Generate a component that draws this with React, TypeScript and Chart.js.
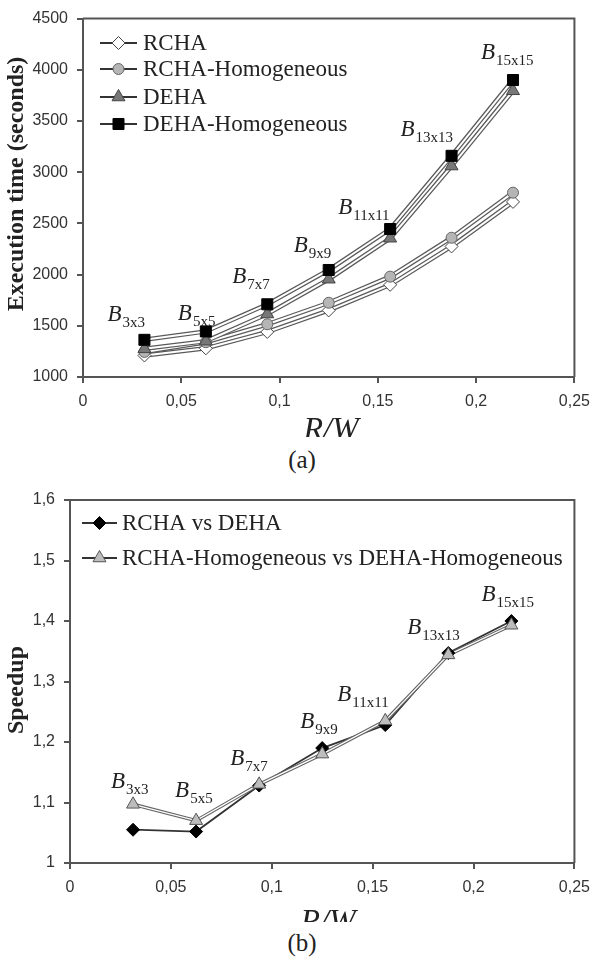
import React, { useEffect, useRef } from 'react';
import { Chart, registerables } from 'chart.js';
import { drawPoint } from 'chart.js/helpers';

Chart.register(...registerables);

// ---------- data ----------
const rwRatios = [0.03125, 0.0625, 0.09375, 0.125, 0.15625, 0.1875, 0.21875];
const blockSizes = ['3x3', '5x5', '7x7', '9x9', '11x11', '13x13', '15x15'];

const rchaTimes = [1210, 1280, 1440, 1650, 1900, 2275, 2710];
const rchaHomogeneousTimes = [1245, 1340, 1515, 1725, 1980, 2360, 2800];
const dehaTimes = [1275, 1350, 1615, 1955, 2355, 3060, 3795];
const dehaHomogeneousTimes = [1363, 1445, 1710, 2045, 2445, 3160, 3900];

const speedupRchaVsDeha = [1.055, 1.052, 1.128, 1.19, 1.228, 1.347, 1.4];
const speedupHomogeneous = [1.097, 1.07, 1.13, 1.18, 1.235, 1.344, 1.393];

const timeLegend = ['RCHA', 'RCHA-Homogeneous', 'DEHA', 'DEHA-Homogeneous'];
const speedupLegend = ['RCHA vs DEHA', 'RCHA-Homogeneous vs DEHA-Homogeneous'];

// ---------- layout / style constants ----------
const SERIF = '"Liberation Serif", "Times New Roman", serif';
const SANS = '"Liberation Sans", Arial, sans-serif';
const AXIS = '#555555';
const TEXT = '#222222';

const topLabelOffsets = [
  [-37, -19], [-28, -11], [-35, -21], [-35, -18], [-52, -15], [-51, -20], [-32, -21],
];
const bottomLabelOffsets = [
  [-22, -16], [-21, -24], [-29, -19], [-22, -20], [-48, -20], [-41, -19], [-30, -20],
];

type MarkStyle = {
  pointStyle: string;
  radius: number;
  fill: string;
  stroke: string;
  lineColor: string;
  lineWidth: number;
  coreWidth: number;
};

const topStyles: MarkStyle[] = [
  { pointStyle: 'rectRot', radius: 6.5, fill: '#ffffff', stroke: '#444', lineColor: '#5a5a5a', lineWidth: 4.5, coreWidth: 2 },
  { pointStyle: 'circle', radius: 5.5, fill: '#b5b5b5', stroke: '#666', lineColor: '#5a5a5a', lineWidth: 4.5, coreWidth: 2 },
  { pointStyle: 'triangle', radius: 7.5, fill: '#777777', stroke: '#444', lineColor: '#5a5a5a', lineWidth: 4.5, coreWidth: 2 },
  { pointStyle: 'rect', radius: 7.8, fill: '#000000', stroke: '#000', lineColor: '#5a5a5a', lineWidth: 4.5, coreWidth: 2 },
];
const bottomStyles: MarkStyle[] = [
  { pointStyle: 'rectRot', radius: 6.5, fill: '#000000', stroke: '#000', lineColor: '#333', lineWidth: 1.8, coreWidth: 0 },
  { pointStyle: 'triangle', radius: 7.5, fill: '#bdbdbd', stroke: '#555', lineColor: '#666', lineWidth: 3.5, coreWidth: 1.3 },
];

const fmtComma = (v: number, digits: number) =>
  String(parseFloat(Number(v).toFixed(digits))).replace('.', ',');

function buildDatasets(seriesValues: number[][], labels: string[], styles: MarkStyle[]) {
  const ds: any[] = [];
  seriesValues.forEach((vals, i) => {
    const data = rwRatios.map((x, k) => ({ x, y: vals[k] }));
    const s = styles[i];
    ds.push({
      label: labels[i],
      data,
      showLine: false,
      pointStyle: s.pointStyle,
      pointRadius: s.radius,
      pointBackgroundColor: s.fill,
      pointBorderColor: s.stroke,
      pointBorderWidth: 1,
      order: 10 - i,
    });
    ds.push({
      label: labels[i] + ' line',
      data,
      borderColor: s.lineColor,
      borderWidth: s.lineWidth,
      pointRadius: 0,
      fill: false,
      tension: 0,
      order: 100 - 2 * i,
    });
    if (s.coreWidth > 0) {
      ds.push({
        label: labels[i] + ' core',
        data,
        borderColor: '#ffffff',
        borderWidth: s.coreWidth,
        pointRadius: 0,
        fill: false,
        tension: 0,
        order: 99 - 2 * i,
      });
    }
  });
  return ds;
}

type Deco = {
  seriesValues: number[][];
  legend: string[];
  styles: MarkStyle[];
  legendLine: [number, number];
  legendText: number;
  legendRows: number[];
  labelOffsets: number[][];
  yTitle: string;
  yTitlePos: [number, number];
  rwPos: [number, number];
};

function decoPlugin(d: Deco) {
  return {
    id: 'deco',
    beforeDatasetsDraw(chart: any) {
      const { ctx, chartArea } = chart;
      ctx.save();
      ctx.strokeStyle = AXIS;
      ctx.lineWidth = 2;
      ctx.beginPath();
      ctx.moveTo(chartArea.left, chartArea.top);
      ctx.lineTo(chartArea.right, chartArea.top);
      ctx.lineTo(chartArea.right, chartArea.bottom);
      ctx.stroke();
      ctx.restore();
    },
    afterDraw(chart: any) {
      const { ctx } = chart;
      const xs = chart.scales.x;
      const ys = chart.scales.y;
      ctx.save();
      // legend
      d.legend.forEach((name, i) => {
        const y = d.legendRows[i];
        const s = d.styles[i];
        ctx.strokeStyle = '#333';
        ctx.lineWidth = 1.8;
        ctx.beginPath();
        ctx.moveTo(d.legendLine[0], y);
        ctx.lineTo(d.legendLine[1], y);
        ctx.stroke();
        ctx.fillStyle = s.fill;
        ctx.strokeStyle = s.stroke;
        ctx.lineWidth = 1;
        drawPoint(ctx, { pointStyle: s.pointStyle as any, radius: s.radius, rotation: 0, borderWidth: 1 }, (d.legendLine[0] + d.legendLine[1]) / 2, y);
        ctx.fillStyle = TEXT;
        ctx.font = `23px ${SERIF}`;
        ctx.textAlign = 'left';
        ctx.textBaseline = 'middle';
        ctx.fillText(name, d.legendText, y + 1);
      });
      // block labels
      ctx.textBaseline = 'alphabetic';
      blockSizes.forEach((b, i) => {
        const anchor = Math.max(...d.seriesValues.map((v) => v[i]));
        const px = xs.getPixelForValue(rwRatios[i]);
        const py = ys.getPixelForValue(anchor);
        const [dx, dy] = d.labelOffsets[i];
        ctx.fillStyle = TEXT;
        ctx.font = `italic 23px ${SERIF}`;
        ctx.fillText('B', px + dx, py + dy);
        const w = ctx.measureText('B').width;
        ctx.font = `15px ${SERIF}`;
        ctx.fillText(b, px + dx + w + 1, py + dy + 6);
      });
      // y title
      ctx.save();
      ctx.translate(d.yTitlePos[0], d.yTitlePos[1]);
      ctx.rotate(-Math.PI / 2);
      ctx.font = `bold 24px ${SERIF}`;
      ctx.fillStyle = TEXT;
      ctx.textAlign = 'center';
      ctx.textBaseline = 'middle';
      ctx.fillText(d.yTitle, 0, 0);
      ctx.restore();
      // x title (clipped by canvas edge like the original)
      ctx.font = `italic 32px ${SERIF}`;
      ctx.fillStyle = TEXT;
      ctx.textAlign = 'center';
      ctx.textBaseline = 'alphabetic';
      ctx.fillText('R/W', d.rwPos[0], d.rwPos[1]);
      ctx.restore();
    },
  };
}

function makeConfig(opts: {
  deco: Deco;
  yMin: number;
  yMax: number;
  yStep: number;
  yFmt: (v: number) => string;
  yWidth: number;
  xHeight: number;
  padTop: number;
}) {
  const { deco } = opts;
  return {
    type: 'line' as const,
    data: { datasets: buildDatasets(deco.seriesValues, deco.legend, deco.styles) },
    options: {
      animation: false,
      responsive: false,
      devicePixelRatio: 1,
      layout: { padding: { top: opts.padTop, right: 16, left: 0, bottom: 0 } },
      plugins: { legend: { display: false }, tooltip: { enabled: false } },
      scales: {
        x: {
          type: 'linear',
          min: 0,
          max: 0.25,
          grid: { drawOnChartArea: false, drawTicks: true, tickLength: 6, color: AXIS, lineWidth: 2 },
          border: { display: true, color: AXIS, width: 2 },
          ticks: {
            stepSize: 0.05,
            autoSkip: false,
            maxRotation: 0,
            padding: 9,
            color: '#333',
            font: { family: SANS, size: 16 },
            callback: (v: any) => fmtComma(v, 2),
          },
          afterFit: (s: any) => { s.height = opts.xHeight; },
        },
        y: {
          type: 'linear',
          min: opts.yMin,
          max: opts.yMax,
          grid: { drawOnChartArea: false, drawTicks: true, tickLength: 6, color: AXIS, lineWidth: 2 },
          border: { display: true, color: AXIS, width: 2 },
          ticks: {
            stepSize: opts.yStep,
            autoSkip: false,
            padding: 9,
            color: '#333',
            font: { family: SANS, size: 16 },
            callback: (v: any) => opts.yFmt(v),
          },
          afterFit: (s: any) => { s.width = opts.yWidth; },
        },
      },
    },
    plugins: [decoPlugin(deco)],
  };
}

function ChartCanvas({ top, width, height, build }: { top: number; width: number; height: number; build: () => any }) {
  const ref = useRef<HTMLCanvasElement>(null);
  useEffect(() => {
    const chart = new Chart(ref.current as HTMLCanvasElement, build());
    return () => chart.destroy();
  }, []);
  return (
    <canvas
      ref={ref}
      width={width}
      height={height}
      style={{ position: 'absolute', left: 0, top, width, height }}
    />
  );
}

export default function App() {
  const topBuild = () =>
    makeConfig({
      deco: {
        seriesValues: [rchaTimes, rchaHomogeneousTimes, dehaTimes, dehaHomogeneousTimes],
        legend: timeLegend,
        styles: topStyles,
        legendLine: [100, 137],
        legendText: 143,
        legendRows: [43, 69, 97, 124],
        labelOffsets: topLabelOffsets,
        yTitle: 'Execution time (seconds)',
        yTitlePos: [17, 184],
        rwPos: [331, 439],
      },
      yMin: 1000,
      yMax: 4500,
      yStep: 500,
      yFmt: (v) => String(Math.round(v)),
      yWidth: 83,
      xHeight: 437 - 377,
      padTop: 14,
    });

  const bottomBuild = () =>
    makeConfig({
      deco: {
        seriesValues: [speedupRchaVsDeha, speedupHomogeneous],
        legend: speedupLegend,
        styles: bottomStyles,
        legendLine: [82, 117],
        legendText: 122,
        legendRows: [523, 558].map((v) => v - 480),
        labelOffsets: bottomLabelOffsets,
        yTitle: 'Speedup',
        yTitlePos: [17, 690 - 480],
        rwPos: [328, 931 - 480],
      },
      yMin: 1,
      yMax: 1.6,
      yStep: 0.1,
      yFmt: (v) => fmtComma(v, 1),
      yWidth: 70,
      xHeight: 922 - 863,
      padTop: 20,
    });

  const caption = { position: 'absolute' as const, left: 0, width: 604, textAlign: 'center' as const, font: `25px ${SERIF}`, color: TEXT, lineHeight: '28px' };

  return (
    <div style={{ position: 'absolute', left: 0, top: 0, width: 599, height: 961, background: '#fff' }}>
      <ChartCanvas top={0} width={599} height={437} build={topBuild} />
      <div style={{ ...caption, top: 446 }}>(a)</div>
      <ChartCanvas top={480} width={599} height={442} build={bottomBuild} />
      <div style={{ ...caption, top: 929 }}>(b)</div>
    </div>
  );
}
